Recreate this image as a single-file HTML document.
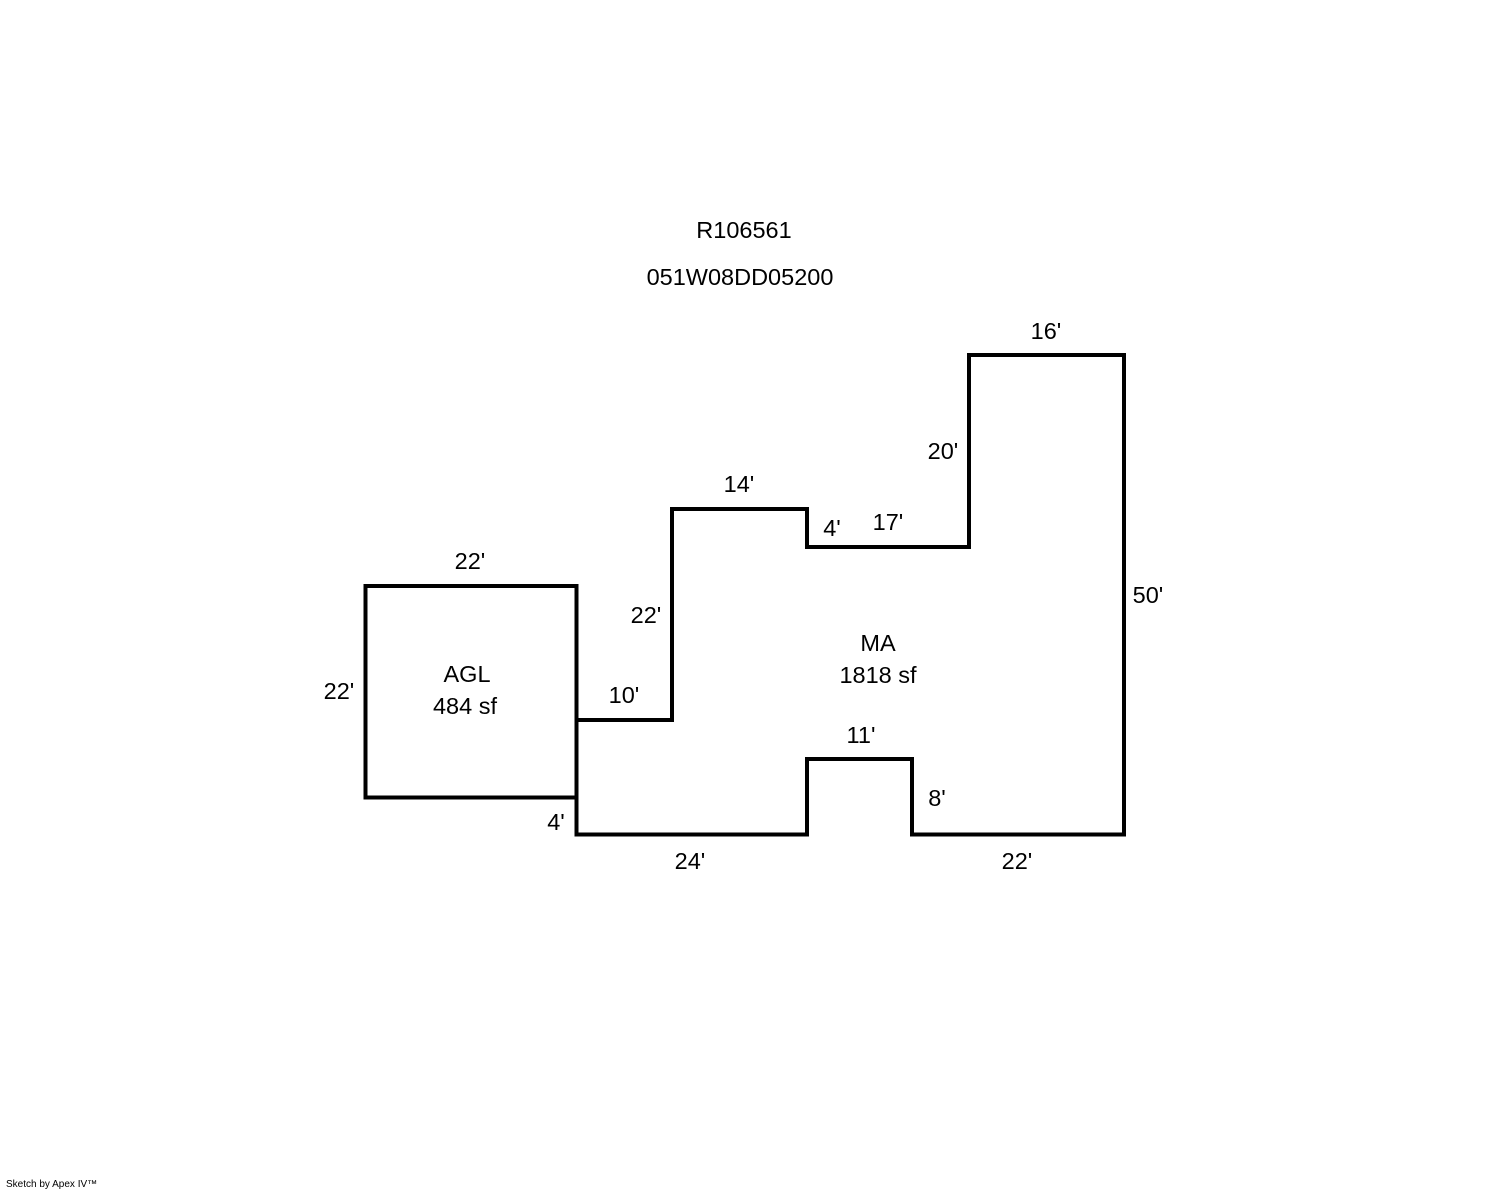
<!DOCTYPE html>
<html><head><meta charset="utf-8"><style>
html,body{margin:0;padding:0;background:#fff;}
svg{display:block;}
text{font-family:"Liberation Sans",Arial,sans-serif;font-size:23.5px;fill:#000;}
</style></head><body>
<svg width="1488" height="1190" viewBox="0 0 1488 1190" xmlns="http://www.w3.org/2000/svg">
<g fill="none" stroke="#000" stroke-width="4" stroke-linejoin="miter">
<rect x="365.5" y="586" width="211" height="211.5"/>
<polyline points="576.5,720 672,720 672,509 807,509 807,547 969,547 969,355 1124,355 1124,834.5 912,834.5 912,759 807,759 807,834.5 576.5,834.5 576.5,718"/>
</g>
<g text-anchor="middle">
<text x="744" y="238">R106561</text>
<text x="740" y="285">051W08DD05200</text>
<text x="1046" y="339">16'</text>
<text x="943" y="459">20'</text>
<text x="739" y="492">14'</text>
<text x="832" y="536">4'</text>
<text x="888" y="530">17'</text>
<text x="470" y="569">22'</text>
<text x="1148" y="603">50'</text>
<text x="646" y="623">22'</text>
<text x="878" y="651">MA</text>
<text x="878" y="683">1818 sf</text>
<text x="467" y="682">AGL</text>
<text x="465" y="714">484 sf</text>
<text x="339" y="699">22'</text>
<text x="624" y="703">10'</text>
<text x="861" y="743">11'</text>
<text x="937" y="806">8'</text>
<text x="556" y="830">4'</text>
<text x="690" y="869">24'</text>
<text x="1017" y="869">22'</text>
</g>
<text x="6" y="1187" style="font-size:10px">Sketch by Apex IV™</text>
</svg>
</body></html>
